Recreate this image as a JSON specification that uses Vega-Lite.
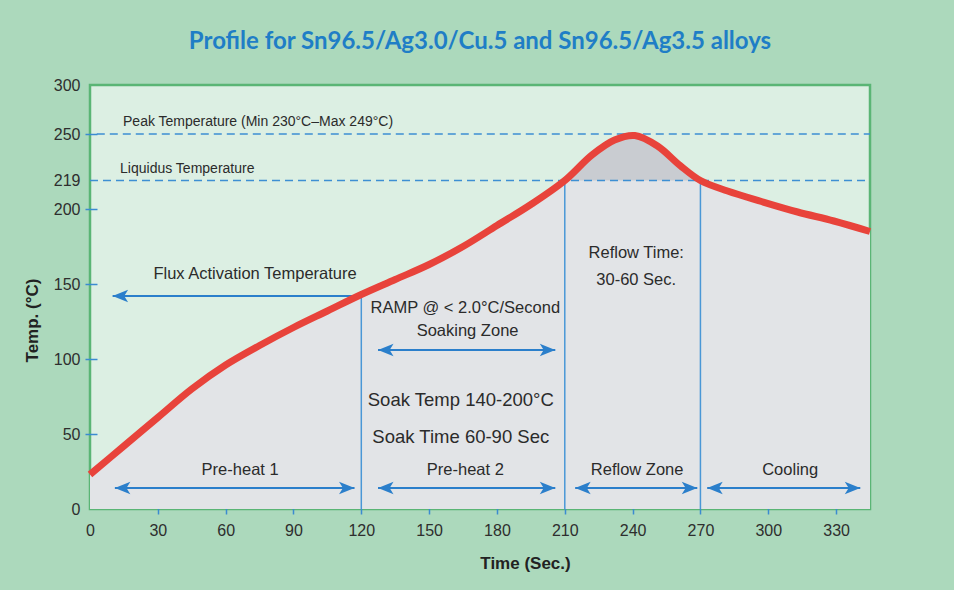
{
  "$schema": "https://vega.github.io/schema/vega-lite/v6.json",
  "width": 780,
  "height": 424,
  "autosize": "none",
  "padding": {"left": 90, "top": 85, "right": 84, "bottom": 81},
  "background": "#acd9bc",
  "title": {
    "text": "Profile for Sn96.5/Ag3.0/Cu.5 and Sn96.5/Ag3.5 alloys",
    "font": "Lato",
    "fontSize": 24,
    "fontWeight": "bold",
    "color": "#1f7ec6",
    "anchor": "middle",
    "offset": 23
  },
  "datasets": {
    "curve": [
      {"t": 0, "temp": 23}, {"t": 15, "temp": 42}, {"t": 30, "temp": 61}, {"t": 45, "temp": 80},
      {"t": 60, "temp": 96}, {"t": 75, "temp": 109}, {"t": 90, "temp": 121}, {"t": 105, "temp": 132},
      {"t": 120, "temp": 143}, {"t": 135, "temp": 153}, {"t": 150, "temp": 163}, {"t": 165, "temp": 175},
      {"t": 180, "temp": 189}, {"t": 195, "temp": 203}, {"t": 210, "temp": 219},
      {"t": 222, "temp": 236}, {"t": 232, "temp": 246}, {"t": 241, "temp": 249},
      {"t": 251, "temp": 242}, {"t": 261, "temp": 229}, {"t": 270, "temp": 219}, {"t": 282, "temp": 212},
      {"t": 297, "temp": 205}, {"t": 313, "temp": 198}, {"t": 329, "temp": 192}, {"t": 345, "temp": 185}
    ],
    "refs": [
      {"name": "Peak", "t": 3, "t2": 345, "temp": 250},
      {"name": "Liquidus", "t": 0, "t2": 345, "temp": 219}
    ],
    "dividers": [
      {"t": 120, "temp": 143, "temp2": 0},
      {"t": 210, "temp": 219, "temp2": 0},
      {"t": 270, "temp": 219, "temp2": 0}
    ],
    "arrows": [
      {"name": "Flux", "t": 10, "t2": 120, "temp": 142},
      {"name": "Soaking", "t": 127.4, "t2": 205.8, "temp": 106},
      {"name": "Pre-heat 1", "t": 11, "t2": 117, "temp": 14},
      {"name": "Pre-heat 2", "t": 127.4, "t2": 205.8, "temp": 14},
      {"name": "Reflow", "t": 214.6, "t2": 268.6, "temp": 14},
      {"name": "Cooling", "t": 273, "t2": 340.7, "temp": 14}
    ],
    "heads": [
      {"t": 10, "temp": 142, "dir": "L"},
      {"t": 127.4, "temp": 106, "dir": "L"}, {"t": 205.8, "temp": 106, "dir": "R"},
      {"t": 11, "temp": 14, "dir": "L"}, {"t": 117, "temp": 14, "dir": "R"},
      {"t": 127.4, "temp": 14, "dir": "L"}, {"t": 205.8, "temp": 14, "dir": "R"},
      {"t": 214.6, "temp": 14, "dir": "L"}, {"t": 268.6, "temp": 14, "dir": "R"},
      {"t": 273, "temp": 14, "dir": "L"}, {"t": 340.7, "temp": 14, "dir": "R"}
    ],
    "notesSmall": [
      {"t": 14.6, "temp": 262, "label": "Peak Temperature (Min 230°C–Max 249°C)"},
      {"t": 13.3, "temp": 227, "label": "Liquidus Temperature"}
    ],
    "notesMid": [
      {"t": 73, "temp": 157, "label": "Flux Activation Temperature"},
      {"t": 166, "temp": 134, "label": "RAMP @ < 2.0°C/Second"},
      {"t": 167, "temp": 119, "label": "Soaking Zone"},
      {"t": 241.6, "temp": 171, "label": "Reflow Time:"},
      {"t": 241.6, "temp": 153, "label": "30-60 Sec."},
      {"t": 66.4, "temp": 26, "label": "Pre-heat 1"},
      {"t": 166, "temp": 26, "label": "Pre-heat 2"},
      {"t": 242, "temp": 26, "label": "Reflow Zone"},
      {"t": 309.7, "temp": 26, "label": "Cooling"}
    ],
    "notesBig": [
      {"t": 164, "temp": 73, "label": "Soak Temp 140-200°C"},
      {"t": 164, "temp": 48, "label": "Soak Time 60-90 Sec"}
    ]
  },
  "encoding": {
    "x": {
      "field": "t",
      "type": "quantitative",
      "scale": {"domain": [0, 345], "nice": false, "zero": false},
      "axis": {
        "title": "Time (Sec.)",
        "values": [0, 30, 60, 90, 120, 150, 180, 210, 240, 270, 300, 330],
        "offset": 5,
        "tickSize": -15,
        "tickWidth": 1.5,
        "tickColor": {"condition": {"test": "datum.value == 0", "value": "transparent"}, "value": "#3b8bd0"},
        "labelPadding": 23,
        "labelFont": "Liberation Sans",
        "labelFontSize": 16,
        "labelColor": "#2e2e2e",
        "labelFlush": false,
        "labelOverlap": false,
        "domain": false,
        "grid": false,
        "titleFont": "Liberation Sans",
        "titleFontSize": 17,
        "titleFontWeight": "bold",
        "titleColor": "#222222",
        "titleX": 435,
        "titleY": 49,
        "titleBaseline": "middle",
        "titleAlign": "center"
      }
    },
    "y": {
      "field": "temp",
      "type": "quantitative",
      "scale": {"domain": [0, 250, 300], "range": [424, 49, 0], "nice": false, "zero": false},
      "axis": {
        "title": "Temp. (°C)",
        "values": [0, 50, 100, 150, 200, 219, 250, 300],
        "offset": 5,
        "tickSize": -12,
        "tickWidth": 1.5,
        "tickColor": {"condition": {"test": "datum.value == 0 || datum.value == 219 || datum.value == 300", "value": "transparent"}, "value": "#3b8bd0"},
        "labelPadding": 17,
        "labelFont": "Liberation Sans",
        "labelFontSize": 16,
        "labelColor": "#2e2e2e",
        "labelFlush": false,
        "labelOverlap": false,
        "domain": false,
        "grid": false,
        "titleFont": "Liberation Sans",
        "titleFontSize": 17,
        "titleFontWeight": "bold",
        "titleColor": "#222222",
        "titleX": -53,
        "titleY": 235,
        "titleAngle": -90,
        "titleBaseline": "middle",
        "titleAlign": "center"
      }
    }
  },
  "layer": [
    {
      "data": {"name": "curve"},
      "mark": {"type": "area", "interpolate": "catmull-rom", "color": "#e2e4e7"},
      "encoding": {"y2": {"datum": 0}}
    },
    {
      "data": {"name": "curve"},
      "transform": [{"filter": "datum.t >= 210 && datum.t <= 270"}],
      "mark": {"type": "area", "interpolate": "catmull-rom", "color": "#c9ccd1"},
      "encoding": {"y2": {"datum": 219}}
    },
    {
      "data": {"name": "dividers"},
      "mark": {"type": "rule", "color": "#4a97d6", "strokeWidth": 1.5},
      "encoding": {"y2": {"field": "temp2"}}
    },
    {
      "data": {"name": "refs"},
      "mark": {"type": "rule", "color": "#3d8fd3", "strokeWidth": 1.6, "strokeDash": [8, 5]},
      "encoding": {"x2": {"field": "t2"}}
    },
    {
      "data": {"name": "arrows"},
      "mark": {"type": "rule", "color": "#2b7fcb", "strokeWidth": 1.8},
      "encoding": {"x2": {"field": "t2"}}
    },
    {
      "data": {"name": "heads"},
      "transform": [{"filter": "datum.dir == 'L'"}],
      "mark": {"type": "point", "filled": true, "opacity": 1, "color": "#2b7fcb", "size": 240, "shape": "M0,0L2,-0.8L1.5,0L2,0.8Z"}
    },
    {
      "data": {"name": "heads"},
      "transform": [{"filter": "datum.dir == 'R'"}],
      "mark": {"type": "point", "filled": true, "opacity": 1, "color": "#2b7fcb", "size": 240, "shape": "M0,0L-2,-0.8L-1.5,0L-2,0.8Z"}
    },
    {
      "data": {"name": "curve"},
      "mark": {"type": "line", "interpolate": "catmull-rom", "color": "#e8433b", "strokeWidth": 7}
    },
    {
      "data": {"name": "notesSmall"},
      "mark": {"type": "text", "align": "left", "baseline": "middle", "font": "Liberation Sans", "fontSize": 14, "color": "#2b2b2b"},
      "encoding": {"text": {"field": "label"}}
    },
    {
      "data": {"name": "notesMid"},
      "mark": {"type": "text", "align": "center", "baseline": "middle", "font": "Liberation Sans", "fontSize": 16.5, "color": "#2b2b2b"},
      "encoding": {"text": {"field": "label"}}
    },
    {
      "data": {"name": "notesBig"},
      "mark": {"type": "text", "align": "center", "baseline": "middle", "font": "Liberation Sans", "fontSize": 18.5, "color": "#2b2b2b"},
      "encoding": {"text": {"field": "label"}}
    }
  ],
  "config": {
    "view": {"fill": "#dcefe3", "stroke": "#5ab575", "strokeWidth": 2.5}
  }
}
